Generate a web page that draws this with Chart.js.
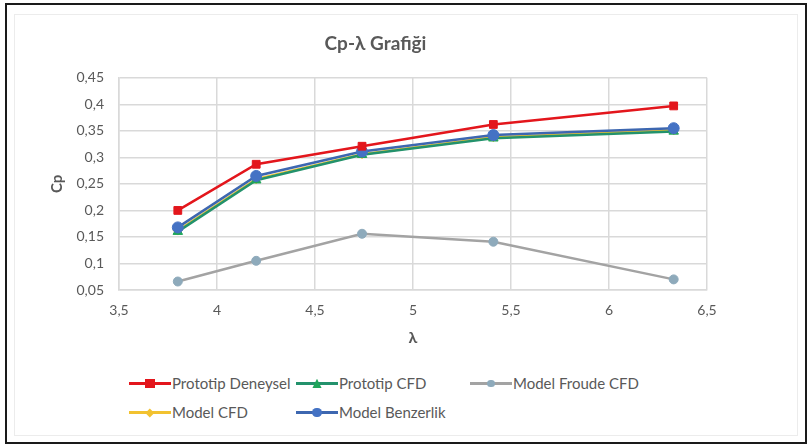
<!DOCTYPE html>
<html>
<head>
    <title>Cp-λ Grafiği</title>
    <style>
        body {
            margin: 0;
            width: 811px;
            height: 448px;
            background-color: #fff;
            font-family: Lato, "Open Sans", sans-serif;
            position: relative;
            overflow: hidden;
        }

        #frame {
            position: absolute;
            left: 5px;
            top: 3px;
            width: 798px;
            height: 437px;
            border: 2px solid #1a1a1a;
        }

        #inner {
            position: absolute;
            left: 14px;
            top: 14px;
            width: 782px;
            height: 420px;
            border: 1px solid #ececec;
        }

        #chart-container {
            position: absolute;
            left: 0;
            top: 0;
            width: 811px;
            height: 360px;
        }

        .legend {
            position: absolute;
            left: 0;
            top: 0;
            width: 811px;
            color: #595959;
            font-size: 15px;
        }

        .item {
            position: absolute;
            height: 20px;
            line-height: 20px;
            white-space: nowrap;
        }

        .item .line {
            position: absolute;
            left: 0;
            top: 9px;
            width: 42px;
            height: 3px;
        }

        .item .mark {
            position: absolute;
        }

        .item .text {
            position: absolute;
            left: 43px;
            top: 0;
        }
    </style>
</head>
<body>
    <div id="frame"></div>
    <div id="inner"></div>
    <div id="chart-container">
        <canvas id="chart"></canvas>
    </div>
    <div class="legend" id="legend"></div>

    <script src="https://cdn.jsdelivr.net/npm/chart.js"></script>
    <script>
const lambda = [3.8, 4.2, 4.74, 5.41, 6.33];
const prototipDeneysel = [0.200, 0.287, 0.321, 0.362, 0.397];
const prototipCFD = [0.160, 0.257, 0.305, 0.336, 0.349];
const modelFroudeCFD = [0.066, 0.105, 0.156, 0.141, 0.070];
const modelCFD = [0.162, 0.259, 0.306, 0.338, 0.351];
const modelBenzerlik = [0.168, 0.265, 0.311, 0.342, 0.355];

const xTicks = [3.5, 4, 4.5, 5, 5.5, 6, 6.5];
const yTicks = [0.05, 0.1, 0.15, 0.2, 0.25, 0.3, 0.35, 0.4, 0.45];

const seriesNames = ['Prototip Deneysel', 'Prototip CFD', 'Model Froude CFD', 'Model CFD', 'Model Benzerlik'];

function toPoints(values) {
  return values.map((v, i) => ({ x: lambda[i], y: v }));
}

function fmt(v) {
  return parseFloat(v.toFixed(2)).toString().replace('.', ',');
}

const gridColor = '#d9d9d9';
const textColor = '#595959';

const datasets = [
  {
    label: seriesNames[0],
    data: toPoints(prototipDeneysel),
    borderColor: '#e3161c',
    backgroundColor: '#e3161c',
    pointStyle: 'rect',
    pointRadius: 5.5,
    borderWidth: 2.5
  },
  {
    label: seriesNames[1],
    data: toPoints(prototipCFD),
    borderColor: '#23926c',
    backgroundColor: '#1fa55a',
    pointStyle: 'triangle',
    pointRadius: 5.5,
    borderWidth: 2.5
  },
  {
    label: seriesNames[2],
    data: toPoints(modelFroudeCFD),
    borderColor: '#a3a3a3',
    backgroundColor: '#8eaabb',
    pointStyle: 'circle',
    pointRadius: 4.5,
    borderWidth: 2.5
  },
  {
    label: seriesNames[3],
    data: toPoints(modelCFD),
    borderColor: '#f2c230',
    backgroundColor: '#f2c230',
    pointStyle: 'rectRot',
    pointRadius: 4.5,
    borderWidth: 2.5
  },
  {
    label: seriesNames[4],
    data: toPoints(modelBenzerlik),
    borderColor: '#3d67b0',
    backgroundColor: '#4472c4',
    pointStyle: 'circle',
    pointRadius: 5.5,
    borderWidth: 2.5
  }
];

// draw order: red on top, then blue, green, yellow, grey
const drawOrder = [0, 2, 4, 3, 1];
datasets.forEach((d, i) => {
  d.order = drawOrder[i];
  d.pointBorderColor = d.backgroundColor;
  d.pointBorderWidth = 1;
  d.fill = false;
  d.tension = 0;
});

new Chart(document.getElementById('chart').getContext('2d'), {
  type: 'line',
  data: { datasets: datasets },
  options: {
    responsive: true,
    maintainAspectRatio: false,
    animation: false,
    layout: { padding: { left: 44, right: 104, top: 0, bottom: 13 } },
    plugins: {
      legend: { display: false },
      tooltip: { enabled: false },
      title: {
        display: true,
        text: 'Cp-λ Grafiği',
        color: textColor,
        font: { family: 'Lato', size: 19, weight: 'bold' },
        padding: { top: 32, bottom: 23 }
      }
    },
    scales: {
      x: {
        type: 'linear',
        min: 3.5,
        max: 6.5,
        afterBuildTicks: (scale) => { scale.ticks = xTicks.map(v => ({ value: v })); },
        afterFit: (scale) => { scale.height = 57; },
        ticks: {
          color: textColor,
          font: { family: 'Lato', size: 14 },
          padding: 12,
          maxRotation: 0,
          callback: (v) => fmt(v)
        },
        grid: { color: gridColor, lineWidth: 1.5, drawTicks: false },
        border: { color: gridColor, width: 1.5 },
        title: {
          display: true,
          text: 'λ',
          color: textColor,
          font: { family: 'Lato', size: 16, weight: 'bold' },
          padding: { top: 0, bottom: 0 }
        }
      },
      y: {
        type: 'linear',
        min: 0.05,
        max: 0.45,
        afterBuildTicks: (scale) => { scale.ticks = yTicks.map(v => ({ value: v })); },
        afterFit: (scale) => { scale.width = 75; },
        ticks: {
          color: textColor,
          font: { family: 'Lato', size: 14 },
          padding: 15,
          callback: (v) => fmt(v)
        },
        grid: { color: gridColor, lineWidth: 1.5, drawTicks: false },
        border: { color: gridColor, width: 1.5 },
        title: {
          display: true,
          text: 'Cp',
          color: textColor,
          font: { family: 'Lato', size: 15, weight: 'bold' },
          padding: { top: 4, bottom: 0 }
        }
      }
    }
  }
});

// legend laid out in columns like the original
const legendPos = [
  { left: 129, top: 373 },
  { left: 296, top: 373 },
  { left: 470, top: 373 },
  { left: 129, top: 402 },
  { left: 296, top: 402 }
];

const legend = document.getElementById('legend');
datasets.forEach((d, i) => {
  const item = document.createElement('div');
  item.className = 'item';
  item.style.left = legendPos[i].left + 'px';
  item.style.top = legendPos[i].top + 'px';

  const line = document.createElement('span');
  line.className = 'line';
  line.style.background = d.borderColor;
  item.appendChild(line);

  const mark = document.createElement('span');
  mark.className = 'mark';
  mark.style.background = d.backgroundColor;
  const s = d.pointRadius * 1.7;
  mark.style.width = s + 'px';
  mark.style.height = s + 'px';
  mark.style.left = (21 - s / 2) + 'px';
  mark.style.top = (10.5 - s / 2) + 'px';
  if (d.pointStyle === 'circle') mark.style.borderRadius = '50%';
  if (d.pointStyle === 'triangle') mark.style.clipPath = 'polygon(50% 0, 100% 100%, 0 100%)';
  if (d.pointStyle === 'rectRot') mark.style.transform = 'rotate(45deg) scale(0.8)';
  item.appendChild(mark);

  const text = document.createElement('span');
  text.className = 'text';
  text.textContent = d.label;
  item.appendChild(text);

  legend.appendChild(item);
});
    </script>
</body>
</html>
